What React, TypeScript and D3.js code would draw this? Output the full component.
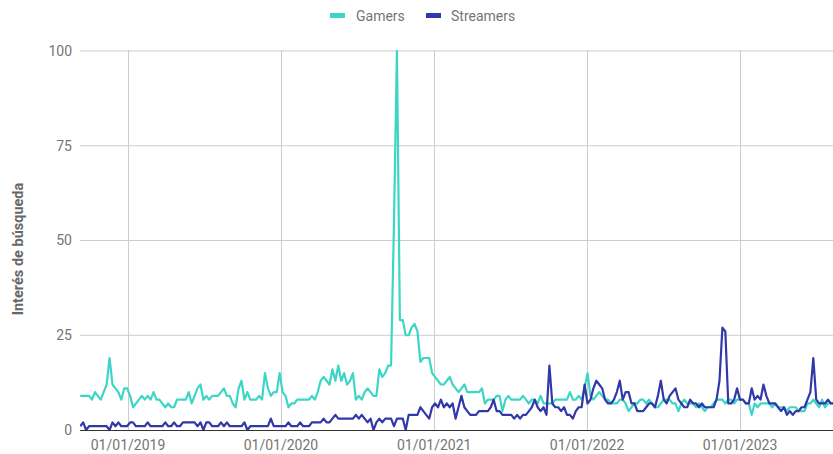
import React from "react";
import * as d3 from "d3";

const START_DATE = "2018-09-09";
const yTicks = [0, 25, 50, 75, 100];
const xTickDates = ["2019-01-01", "2020-01-01", "2021-01-01", "2022-01-01", "2023-01-01"];
const xTickLabels = ["01/01/2019", "01/01/2020", "01/01/2021", "01/01/2022", "01/01/2023"];
const seriesNames = ["Gamers", "Streamers"];

const gamers = [
  9, 9, 9, 9, 8, 10, 9, 8, 10, 12,
  19, 12, 11, 10, 8, 11, 11, 9, 6, 7,
  8, 9, 8, 9, 8, 10, 8, 8, 7, 6,
  7, 6, 6, 8, 8, 8, 8, 10, 7, 9,
  11, 12, 8, 9, 8, 9, 9, 9, 10, 11,
  9, 9, 7, 6, 11, 13, 8, 10, 8, 8,
  8, 9, 8, 15, 11, 9, 10, 10, 15, 10,
  9, 6, 7, 7, 8, 8, 8, 8, 8, 9,
  8, 10, 13, 14, 13, 12, 16, 13, 17, 13,
  15, 12, 13, 15, 8, 9, 8, 10, 11, 10,
  9, 9, 16, 14, 15, 17, 17, 55, 100, 29,
  29, 25, 25, 27, 28, 26, 18, 19, 19, 19,
  15, 14, 13, 12, 12, 13, 14, 12, 11, 10,
  11, 12, 10, 10, 10, 10, 10, 11, 7, 8,
  8, 8, 9, 9, 5, 8, 9, 8, 8, 8,
  8, 9, 8, 7, 8, 8, 7, 9, 7, 7,
  7, 7, 8, 8, 8, 8, 8, 10, 8, 8,
  9, 8, 11, 15, 9, 8, 9, 10, 9, 8,
  8, 7, 7, 7, 8, 8, 7, 5, 6, 7,
  7, 8, 8, 7, 8, 7, 6, 6, 7, 8,
  8, 8, 7, 7, 5, 7, 8, 7, 7, 7,
  6, 7, 6, 5, 6, 6, 7, 8, 8, 8,
  7, 8, 8, 7, 8, 8, 8, 7, 7, 4,
  7, 6, 7, 7, 7, 7, 6, 7, 6, 6,
  6, 5, 6, 6, 6, 5, 5, 5, 7, 7,
  8, 7, 6, 8, 6, 7, 7, 7,
];

const streamers = [
  1, 2, 0, 1, 1, 1, 1, 1, 1, 1,
  0, 2, 1, 2, 1, 1, 1, 2, 2, 1,
  1, 1, 1, 2, 1, 1, 1, 1, 1, 2,
  1, 1, 2, 1, 1, 2, 2, 2, 2, 2,
  1, 2, 0, 2, 2, 1, 1, 1, 2, 1,
  2, 1, 1, 1, 1, 1, 2, 0, 1, 1,
  1, 1, 1, 1, 1, 3, 1, 1, 1, 1,
  1, 2, 1, 1, 1, 2, 1, 1, 1, 2,
  2, 2, 2, 3, 2, 2, 3, 4, 3, 3,
  3, 3, 3, 3, 4, 3, 4, 3, 2, 3,
  0, 2, 3, 2, 3, 3, 3, 1, 3, 3,
  3, 0, 4, 4, 4, 4, 6, 5, 4, 3,
  6, 7, 6, 8, 6, 7, 6, 7, 3, 6,
  9, 6, 5, 4, 4, 4, 5, 5, 5, 5,
  6, 8, 5, 5, 4, 4, 4, 4, 3, 4,
  3, 4, 4, 5, 6, 8, 6, 5, 6, 4,
  17, 7, 6, 6, 5, 6, 4, 4, 3, 5,
  6, 6, 12, 7, 8, 11, 13, 12, 11, 8,
  7, 7, 8, 10, 13, 8, 10, 10, 7, 7,
  5, 5, 5, 6, 7, 7, 6, 9, 13, 8,
  7, 9, 10, 11, 8, 7, 6, 6, 8, 7,
  7, 6, 7, 6, 6, 6, 6, 8, 13, 27,
  26, 7, 7, 8, 11, 8, 8, 7, 7, 11,
  8, 9, 8, 12, 9, 7, 7, 7, 6, 5,
  6, 4, 5, 4, 5, 5, 6, 6, 8, 10,
  19, 8, 7, 7, 7, 8, 7, 7,
];

const COLORS = ["#3dd6c6", "#3138a8"];

export default function App() {
  const W = 833;
  const H = 454;
  const left = 80;
  const right = 833;
  const top = 51;
  const bottom = 430;
  const parse = d3.utcParse("%Y-%m-%d");
  const start = parse(START_DATE) as Date;
  const dates = gamers.map((_, i) => d3.utcDay.offset(start, i * 7));
  const x = d3
    .scaleUtc()
    .domain([parse(xTickDates[0]) as Date, parse(xTickDates[4]) as Date])
    .range([128, 740]);
  const y = d3.scaleLinear().domain([0, 100]).range([bottom, top]);
  const line = d3
    .line<number>()
    .x((_, i) => x(dates[i]))
    .y((d) => y(d));
  const font = "Roboto, 'Open Sans', sans-serif";
  const legendItems = [
    { name: seriesNames[0], sx: 330, tx: 356 },
    { name: seriesNames[1], sx: 426, tx: 451 },
  ];
  return (
    <svg width={W} height={H} style={{ position: "absolute", left: 0, top: 0 }} fontFamily={font}>
      <rect width={W} height={H} fill="#ffffff" />
      {yTicks.slice(1).map((t) => (
        <line key={t} x1={left} x2={right} y1={y(t)} y2={y(t)} stroke="#cccccc" strokeWidth={1} />
      ))}
      {xTickDates.map((d) => {
        const xx = Math.round(x(parse(d) as Date)) + 0.5;
        return <line key={d} x1={xx} x2={xx} y1={top - 1} y2={bottom} stroke="#cccccc" strokeWidth={1} />;
      })}
      <defs>
        <clipPath id="plot">
          <rect x={left} y={0} width={right - left} height={bottom + 4} />
        </clipPath>
      </defs>
      <g clipPath="url(#plot)">
        <path d={line(gamers) || ""} fill="none" stroke={COLORS[0]} strokeWidth={2.2} strokeLinejoin="round" />
        <path d={line(streamers) || ""} fill="none" stroke={COLORS[1]} strokeWidth={2.2} strokeLinejoin="round" />
      </g>
      <line x1={left} x2={right} y1={bottom + 0.5} y2={bottom + 0.5} stroke="#333333" strokeWidth={1} />
      {yTicks.map((t) => (
        <text key={t} x={72} y={y(t)} dy="0.35em" textAnchor="end" fontSize={14} fill="#757575">
          {t}
        </text>
      ))}
      {xTickDates.map((d, i) => (
        <text key={d} x={x(parse(d) as Date)} y={450} textAnchor="middle" fontSize={14} fill="#757575">
          {xTickLabels[i]}
        </text>
      ))}
      <text
        transform={`translate(23, ${249}) rotate(-90)`}
        textAnchor="middle"
        fontSize={14.5}
        fontWeight="bold"
        fill="#666666"
      >
        Interés de búsqueda
      </text>
      {legendItems.map((it, i) => (
        <g key={it.name}>
          <rect x={it.sx} y={13} width={15} height={5} fill={COLORS[i]} />
          <text x={it.tx} y={20.5} fontSize={14} fill="#757575">
            {it.name}
          </text>
        </g>
      ))}
    </svg>
  );
}
